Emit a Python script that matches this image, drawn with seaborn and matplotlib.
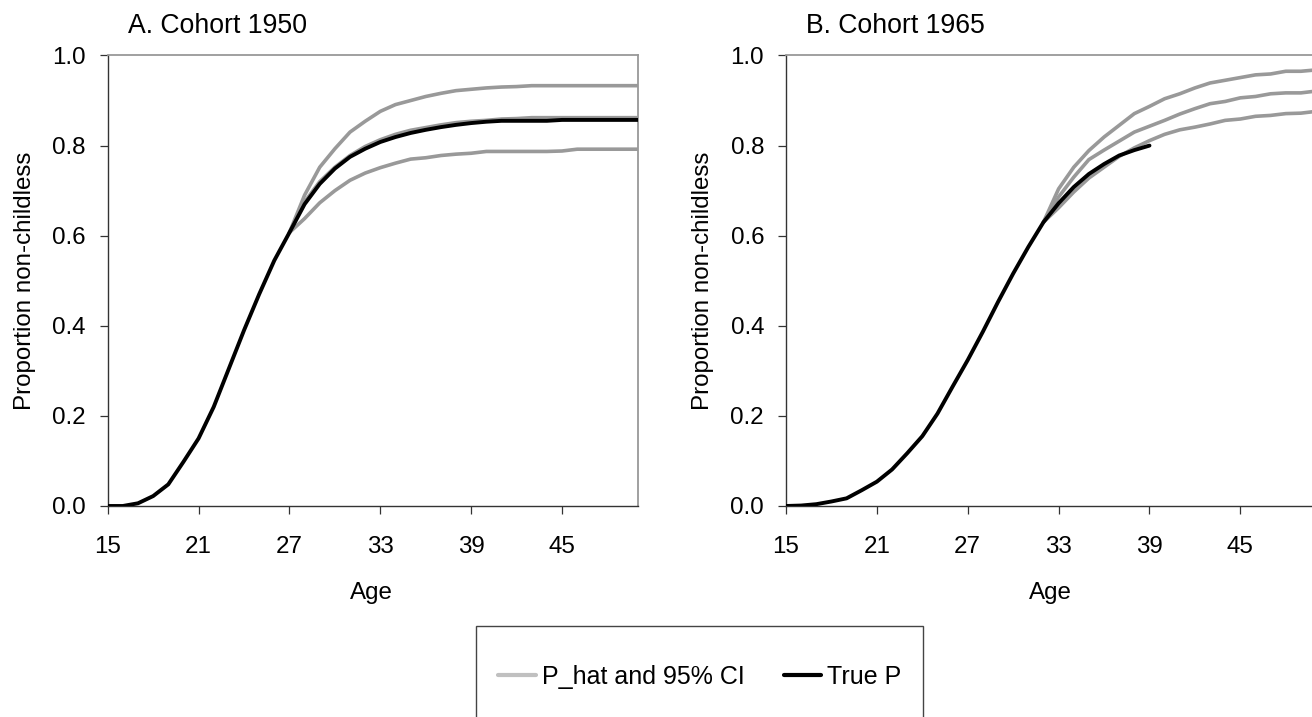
import numpy as np
import pandas as pd
import seaborn as sns
import matplotlib.pyplot as plt
from matplotlib.lines import Line2D
from matplotlib.patches import Rectangle

sns.set_theme(style='white')
plt.rcParams['font.family'] = ['Liberation Sans', 'DejaVu Sans']
plt.rcParams['text.color'] = 'black'
plt.rcParams['axes.labelcolor'] = 'black'

# ages (single years)
ages_1950 = list(range(15, 51))
ages_1950_ci = list(range(27, 51))
ages_1965_true = list(range(15, 40))
ages_1965_ci = list(range(32, 51))

# Cohort 1950
true_1950 = [0, 0, 0.006, 0.022, 0.048, 0.098, 0.15, 0.22, 0.305, 0.39, 0.47, 0.545,
             0.607, 0.67, 0.715, 0.749, 0.775, 0.793, 0.808, 0.819, 0.828, 0.835,
             0.841, 0.846, 0.85, 0.853, 0.855, 0.855, 0.855, 0.855, 0.857, 0.857,
             0.857, 0.857, 0.857, 0.857]
phat_1950 = [0.607, 0.675, 0.72, 0.752, 0.778, 0.798, 0.813, 0.825, 0.834, 0.84,
             0.846, 0.851, 0.854, 0.856, 0.859, 0.86, 0.862, 0.862, 0.862, 0.862,
             0.862, 0.862, 0.862, 0.862]
upper_1950 = [0.607, 0.69, 0.752, 0.793, 0.83, 0.854, 0.876, 0.891, 0.9, 0.909,
              0.916, 0.922, 0.925, 0.928, 0.93, 0.931, 0.933, 0.933, 0.933, 0.933,
              0.933, 0.933, 0.933, 0.933]
lower_1950 = [0.607, 0.638, 0.673, 0.70, 0.723, 0.739, 0.751, 0.761, 0.77, 0.773,
              0.778, 0.781, 0.783, 0.787, 0.787, 0.787, 0.787, 0.787, 0.788, 0.792,
              0.792, 0.792, 0.792, 0.792]

# Cohort 1965
true_1965 = [0, 0.001, 0.004, 0.01, 0.017, 0.035, 0.054, 0.081, 0.117, 0.155, 0.205,
             0.265, 0.324, 0.387, 0.453, 0.516, 0.575, 0.63, 0.672, 0.708, 0.737,
             0.759, 0.778, 0.79, 0.80]
phat_1965 = [0.63, 0.686, 0.73, 0.769, 0.79, 0.81, 0.83, 0.843, 0.856, 0.87, 0.882,
             0.893, 0.898, 0.906, 0.909, 0.915, 0.917, 0.917, 0.921]
upper_1965 = [0.63, 0.704, 0.752, 0.789, 0.819, 0.845, 0.871, 0.887, 0.904, 0.915,
              0.928, 0.939, 0.945, 0.951, 0.957, 0.959, 0.965, 0.965, 0.968]
lower_1965 = [0.63, 0.662, 0.697, 0.728, 0.752, 0.776, 0.795, 0.811, 0.825, 0.835,
              0.841, 0.848, 0.856, 0.859, 0.865, 0.867, 0.871, 0.872, 0.876]

panels = [
    ("A. Cohort 1950", ages_1950, true_1950, ages_1950_ci, [phat_1950, upper_1950, lower_1950]),
    ("B. Cohort 1965", ages_1965_true, true_1965, ages_1965_ci, [phat_1965, upper_1965, lower_1965]),
]

GRAY = '#999999'
fig = plt.figure(figsize=(13.12, 7.17), dpi=100)
lefts = [0.0821, 0.5991]

for left, (title, ages, true_p, ci_ages, ci_lines) in zip(lefts, panels):
    ax = fig.add_axes([left, 0.2943, 0.404, 0.6283])
    for vals in ci_lines:
        sns.lineplot(x=ci_ages, y=vals, ax=ax, color=GRAY, lw=2.6, legend=False, zorder=2)
    sns.lineplot(x=ages, y=true_p, ax=ax, color='black', lw=2.8, legend=False, zorder=3)

    ax.set_xlim(15, 50)
    ax.set_ylim(0, 1.0)
    ax.set_xticks(range(15, 50, 6))
    ax.set_yticks(np.arange(0, 1.01, 0.2))
    ax.set_yticklabels([f"{v:.1f}" for v in np.arange(0, 1.01, 0.2)])
    ax.tick_params(axis='both', direction='out', length=5.8, width=0.9,
                   color='#333333', labelsize=17.4, labelcolor='black')
    ax.tick_params(axis='y', pad=10, left=True)
    ax.tick_params(axis='x', pad=16, bottom=True)

    for side in ['top', 'right']:
        ax.spines[side].set_color(GRAY)
        ax.spines[side].set_linewidth(1.3)
    for side in ['left', 'bottom']:
        ax.spines[side].set_color('#333333')
        ax.spines[side].set_linewidth(1.0)

    ax.set_xlabel('Age', fontsize=17.4)
    ax.set_ylabel('Proportion non-childless', fontsize=17.4)
    ax.xaxis.set_label_coords(0.498, -0.168)
    ax.yaxis.set_label_coords(-0.135, 0.5)
    ax.text(0.038, 1.05, title, transform=ax.transAxes, fontsize=19.2,
            ha='left', va='baseline', color='black')

# legend with a box that runs off the bottom of the figure
handles = [Line2D([], [], color='#c0c0c0', lw=3),
           Line2D([], [], color='black', lw=3)]
fig.legend(handles, ['P_hat and 95% CI', 'True P'], ncol=2, frameon=False,
           loc='center', bbox_to_anchor=(0.5335, 0.0562), fontsize=18,
           handlelength=1.5, handletextpad=0.25, columnspacing=1.55)
fig.add_artist(Rectangle((0.3628, -0.05), 0.3407, 0.1769, transform=fig.transFigure,
                         fill=False, edgecolor='#444444', lw=1.0))

fig.savefig('out.png', dpi=100)
